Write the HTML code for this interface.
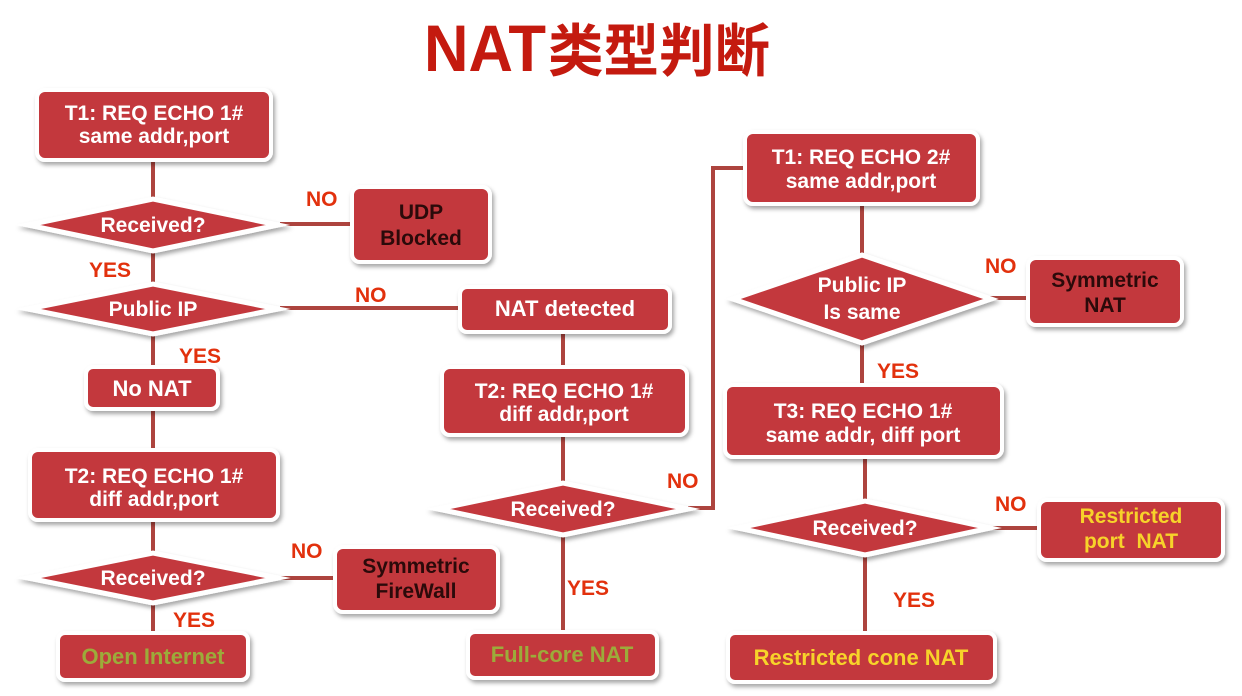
<!DOCTYPE html>
<html>
<head>
<meta charset="utf-8">
<style>
  html, body { margin:0; padding:0; background:#ffffff; }
  body { width:1242px; height:696px; overflow:hidden; }
  svg { display:block; }
  .t { font-family:"Liberation Sans","Noto Sans CJK SC",sans-serif; font-weight:bold; }
</style>
</head>
<body>
<svg width="1242" height="696" viewBox="0 0 1242 696" xmlns="http://www.w3.org/2000/svg">
  <defs>
    <filter id="sh" x="-20%" y="-40%" width="140%" height="180%">
      <feDropShadow dx="2" dy="3" stdDeviation="2.2" flood-color="#000" flood-opacity="0.35"/>
    </filter>
  </defs>
  <rect width="1242" height="696" fill="#ffffff"/>

  <!-- Title -->
  <text class="t" x="424" y="71" font-size="66" fill="#c41a0f" textLength="122" lengthAdjust="spacingAndGlyphs">NAT</text>
  <text class="t" x="548" y="71" font-size="57" fill="#c41a0f" textLength="222" lengthAdjust="spacingAndGlyphs" style='font-family:"Noto Sans CJK SC","WenQuanYi Zen Hei",sans-serif;font-weight:bold'>类型判断</text>

  <!-- Connectors -->
  <g stroke="#ad443e" stroke-width="4" fill="none">
    <!-- left column -->
    <line x1="153" y1="160" x2="153" y2="205"/>
    <line x1="153" y1="245" x2="153" y2="290"/>
    <line x1="153" y1="330" x2="153" y2="367"/>
    <line x1="153" y1="409" x2="153" y2="450"/>
    <line x1="153" y1="520" x2="153" y2="558"/>
    <line x1="153" y1="598" x2="153" y2="633"/>
    <line x1="280" y1="224" x2="352" y2="224"/>
    <line x1="280" y1="308" x2="460" y2="308"/>
    <line x1="280" y1="578" x2="335" y2="578"/>
    <!-- middle column -->
    <line x1="563" y1="332" x2="563" y2="367"/>
    <line x1="563" y1="435" x2="563" y2="488"/>
    <line x1="563" y1="530" x2="563" y2="632"/>
    <polyline points="688,508 713,508 713,168 745,168"/>
    <!-- right column -->
    <line x1="862" y1="204" x2="862" y2="260"/>
    <line x1="862" y1="338" x2="862" y2="385"/>
    <line x1="865" y1="457" x2="865" y2="506"/>
    <line x1="865" y1="550" x2="865" y2="633"/>
    <line x1="990" y1="298" x2="1028" y2="298"/>
    <line x1="988" y1="528" x2="1039" y2="528"/>
  </g>

  <!-- Boxes -->
  <g fill="#c3383c" stroke="#ffffff" stroke-width="4" filter="url(#sh)">
    <rect x="37" y="90" width="234" height="70" rx="8"/>
    <rect x="352" y="187" width="138" height="75" rx="8"/>
    <rect x="86" y="367" width="132" height="42" rx="7"/>
    <rect x="30" y="450" width="248" height="70" rx="8"/>
    <rect x="335" y="547" width="163" height="65" rx="8"/>
    <rect x="58" y="633" width="190" height="47" rx="7"/>
    <rect x="460" y="287" width="210" height="45" rx="7"/>
    <rect x="442" y="367" width="245" height="68" rx="8"/>
    <rect x="468" y="632" width="189" height="46" rx="7"/>
    <rect x="745" y="132" width="233" height="72" rx="8"/>
    <rect x="1028" y="258" width="154" height="67" rx="8"/>
    <rect x="725" y="385" width="277" height="72" rx="8"/>
    <rect x="1039" y="500" width="184" height="60" rx="8"/>
    <rect x="728" y="633" width="267" height="49" rx="7"/>
  </g>

  <!-- Diamonds -->
  <g fill="#c3383c" stroke="#ffffff" stroke-width="5" stroke-linejoin="miter" stroke-miterlimit="10" filter="url(#sh)">
    <polygon points="28,225 153,199 278,225 153,251"/>
    <polygon points="28,309 153,284 278,309 153,334"/>
    <polygon points="28,578 153,553 278,578 153,603"/>
    <polygon points="438,509 563,483 688,509 563,535"/>
    <polygon points="733,299 862,255 991,299 862,343"/>
    <polygon points="738,528 865,501 990,528 865,555"/>
  </g>

  <!-- Box text -->
  <g class="t" text-anchor="middle" font-size="21" fill="#ffffff">
    <text x="154" y="120">T1: REQ ECHO 1#</text>
    <text x="154" y="143">same addr,port</text>

    <text x="154" y="483">T2: REQ ECHO 1#</text>
    <text x="154" y="506">diff addr,port</text>

    <text x="564" y="398">T2: REQ ECHO 1#</text>
    <text x="564" y="421">diff addr,port</text>

    <text x="861" y="164">T1: REQ ECHO 2#</text>
    <text x="861" y="188">same addr,port</text>

    <text x="863" y="418">T3: REQ ECHO 1#</text>
    <text x="863" y="442">same addr, diff port</text>

    <text x="152" y="396" font-size="22">No NAT</text>
    <text x="565" y="316" font-size="22">NAT detected</text>

    <!-- diamond labels -->
    <text x="153" y="232">Received?</text>
    <text x="153" y="316">Public IP</text>
    <text x="153" y="585">Received?</text>
    <text x="563" y="516">Received?</text>
    <text x="862" y="292">Public IP</text>
    <text x="862" y="319">Is same</text>
    <text x="865" y="535">Received?</text>
  </g>

  <g class="t" text-anchor="middle" font-size="21" fill="#2b0a0a">
    <text x="421" y="219">UDP</text>
    <text x="421" y="245">Blocked</text>
    <text x="416" y="573">Symmetric</text>
    <text x="416" y="598">FireWall</text>
    <text x="1105" y="287">Symmetric</text>
    <text x="1105" y="312">NAT</text>
  </g>

  <g class="t" text-anchor="middle" font-size="22" fill="#9cab3a">
    <text x="153" y="664">Open Internet</text>
    <text x="562" y="662">Full-core NAT</text>
  </g>

  <g class="t" text-anchor="middle" font-size="21" fill="#f7d32a">
    <text x="1131" y="523">Restricted</text>
    <text x="1131" y="548">port&#160;&#160;NAT</text>
    <text x="861" y="665" font-size="22">Restricted cone NAT</text>
  </g>

  <!-- YES / NO labels -->
  <g class="t" font-size="21" fill="#e2310d">
    <text x="306" y="206">NO</text>
    <text x="355" y="302">NO</text>
    <text x="89" y="277">YES</text>
    <text x="179" y="363">YES</text>
    <text x="291" y="558">NO</text>
    <text x="173" y="627">YES</text>
    <text x="667" y="488">NO</text>
    <text x="567" y="595">YES</text>
    <text x="985" y="273">NO</text>
    <text x="877" y="378">YES</text>
    <text x="995" y="511">NO</text>
    <text x="893" y="607">YES</text>
  </g>
</svg>
</body>
</html>
